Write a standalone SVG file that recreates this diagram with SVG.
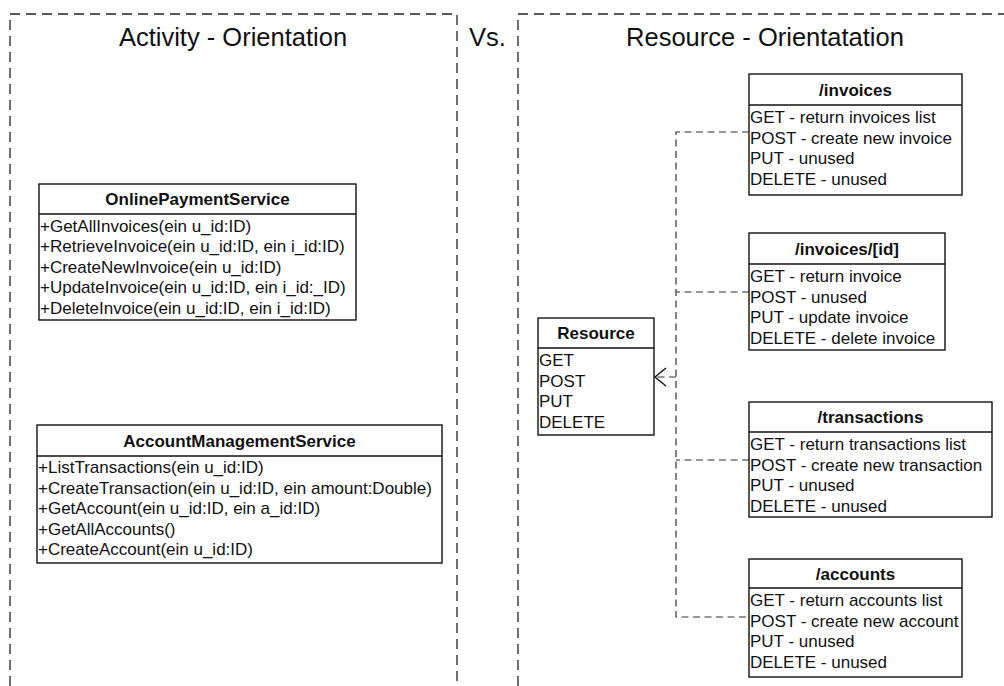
<svg xmlns="http://www.w3.org/2000/svg" width="1004" height="686" viewBox="0 0 1004 686">
  <defs>
    <style>
      .frame { fill: none; stroke: #222; stroke-width: 1.3; stroke-dasharray: 10 6; }
      .title { font-family: "Liberation Sans", Arial, sans-serif; font-size: 25.5px; fill: #111; }
      .box { fill: #fff; stroke: #111; stroke-width: 1.4; }
      .sep { stroke: #111; stroke-width: 1.4; }
      .head { font-family: "Liberation Sans", Arial, sans-serif; font-size: 17px; font-weight: bold; fill: #111; text-anchor: middle; }
      .row { font-family: "Liberation Sans", Arial, sans-serif; font-size: 17px; fill: #111; }
      .link { fill: none; stroke: #333; stroke-width: 1.2; stroke-dasharray: 7 4.5; }
      .arrow { fill: none; stroke: #111; stroke-width: 1.4; }
    </style>
  </defs>

  <!-- section frames -->
  <g id="frames">
    <path class="frame" d="M10,686 V14 H457 V686"/>
    <path class="frame" d="M518,686 V14 H1010"/>
  </g>

  <!-- section titles -->
  <g id="titles">
    <text class="title" x="233" y="46" text-anchor="middle">Activity - Orientation</text>
    <text class="title" x="469" y="46">Vs.</text>
    <text class="title" x="765" y="46" text-anchor="middle">Resource - Orientatation</text>
  </g>

  <!-- connectors -->
  <g id="connectors">
    <path class="link" d="M749,132 H676 V617 H749"/>
    <path class="link" d="M749,292 H676"/>
    <path class="link" d="M749,460 H676"/>
    <path class="link" d="M676,377 H655"/>
    <path class="arrow" d="M666,368 L655,377 L666,386"/>
  </g>

  <g id="online-payment-service">
    <rect class="box" x="39" y="184" width="317" height="136"/>
    <line class="sep" x1="39" y1="214" x2="356" y2="214"/>
    <text class="head" x="197.5" y="205">OnlinePaymentService</text>
    <text class="row" x="40" y="231.5">+GetAllInvoices(ein u_id:ID)</text>
    <text class="row" x="40" y="252">+RetrieveInvoice(ein u_id:ID, ein i_id:ID)</text>
    <text class="row" x="40" y="272.5">+CreateNewInvoice(ein u_id:ID)</text>
    <text class="row" x="40" y="293">+UpdateInvoice(ein u_id:ID, ein i_id:_ID)</text>
    <text class="row" x="40" y="313.5">+DeleteInvoice(ein u_id:ID, ein i_id:ID)</text>
  </g>

  <g id="account-management-service">
    <rect class="box" x="37" y="425" width="405" height="138"/>
    <line class="sep" x1="37" y1="456" x2="442" y2="456"/>
    <text class="head" x="239.5" y="447">AccountManagementService</text>
    <text class="row" x="38" y="473">+ListTransactions(ein u_id:ID)</text>
    <text class="row" x="38" y="493.5">+CreateTransaction(ein u_id:ID, ein amount:Double)</text>
    <text class="row" x="38" y="514">+GetAccount(ein u_id:ID, ein a_id:ID)</text>
    <text class="row" x="38" y="534.5">+GetAllAccounts()</text>
    <text class="row" x="38" y="555">+CreateAccount(ein u_id:ID)</text>
  </g>

  <g id="resource">
    <rect class="box" x="538" y="318" width="116" height="117"/>
    <line class="sep" x1="538" y1="348" x2="654" y2="348"/>
    <text class="head" x="596" y="339">Resource</text>
    <text class="row" x="539" y="366">GET</text>
    <text class="row" x="539" y="386.5">POST</text>
    <text class="row" x="539" y="407">PUT</text>
    <text class="row" x="539" y="427.5">DELETE</text>
  </g>

  <g id="invoices">
    <rect class="box" x="749" y="74" width="213" height="121"/>
    <line class="sep" x1="749" y1="105" x2="962" y2="105"/>
    <text class="head" x="855.5" y="96">/invoices</text>
    <text class="row" x="750" y="123">GET - return invoices list</text>
    <text class="row" x="750" y="143.5">POST - create new invoice</text>
    <text class="row" x="750" y="164">PUT - unused</text>
    <text class="row" x="750" y="184.5">DELETE - unused</text>
  </g>

  <g id="invoice-by-id">
    <rect class="box" x="749" y="233" width="196" height="117"/>
    <line class="sep" x1="749" y1="264" x2="945" y2="264"/>
    <text class="head" x="847" y="255">/invoices/[id]</text>
    <text class="row" x="750" y="282">GET - return invoice</text>
    <text class="row" x="750" y="302.5">POST - unused</text>
    <text class="row" x="750" y="323">PUT - update invoice</text>
    <text class="row" x="750" y="343.5">DELETE - delete invoice</text>
  </g>

  <g id="transactions">
    <rect class="box" x="749" y="402" width="243" height="115"/>
    <line class="sep" x1="749" y1="432" x2="992" y2="432"/>
    <text class="head" x="870.5" y="423">/transactions</text>
    <text class="row" x="750" y="450">GET - return transactions list</text>
    <text class="row" x="750" y="470.5">POST - create new transaction</text>
    <text class="row" x="750" y="491">PUT - unused</text>
    <text class="row" x="750" y="511.5">DELETE - unused</text>
  </g>

  <g id="accounts">
    <rect class="box" x="749" y="559" width="213" height="118"/>
    <line class="sep" x1="749" y1="588" x2="962" y2="588"/>
    <text class="head" x="855.5" y="580">/accounts</text>
    <text class="row" x="750" y="606">GET - return accounts list</text>
    <text class="row" x="750" y="626.5">POST - create new account</text>
    <text class="row" x="750" y="647">PUT - unused</text>
    <text class="row" x="750" y="667.5">DELETE - unused</text>
  </g>
</svg>
